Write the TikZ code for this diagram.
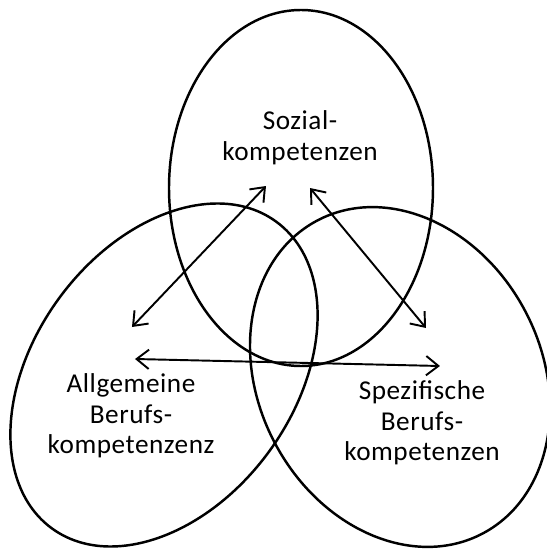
\documentclass[tikz,border=0pt]{standalone}
\usepackage{fontspec}
\setmainfont{Carlito}
\usetikzlibrary{arrows.meta}
\tikzset{
  kreis/.style={line width=1.4pt},
  pfeil/.style={line width=1.1pt,{Straight Barb[length=7pt,width=11pt]}-{Straight Barb[length=7pt,width=11pt]}},
  feld/.style={align=center,font=\fontsize{15.5}{17.4}\selectfont\addfontfeature{LetterSpace=2},inner sep=0pt}
}

\begin{document}
\begin{tikzpicture}[x=0.02cm,y=0.02cm]
  \useasboundingbox (0,0) rectangle (547,549);
  % drei Kompetenzbereiche
  \draw[kreis] (301,361) ellipse (132 and 178);
  \draw[kreis,rotate around={53.8:(164,174)}] (164,174) ellipse (190 and 130);
  \draw[kreis,rotate around={117.9:(400,172)}] (400,172) ellipse (177 and 141.5);
  \node[feld] (sozial) at (300,411) {Sozial-\\kompetenzen};
  \node[feld] (allgemein) at (131,133) {Allgemeine\\Berufs-\\kompetenzenz};
  \node[feld] (spezifisch) at (422,126) {Spezifische\\Berufs-\\kompetenzen};
  % Wechselwirkungen
  \coordinate (as) at (132,222); \coordinate (sa) at (266,363);
  \coordinate (sp) at (310,361); \coordinate (ps) at (426,221);
  \coordinate (ap) at (135,190); \coordinate (pa) at (440,183);
  \draw[pfeil] (as)--(sa);
  \draw[pfeil] (sp)--(ps);
  \draw[pfeil] (ap)--(pa);
\end{tikzpicture}
\end{document}
